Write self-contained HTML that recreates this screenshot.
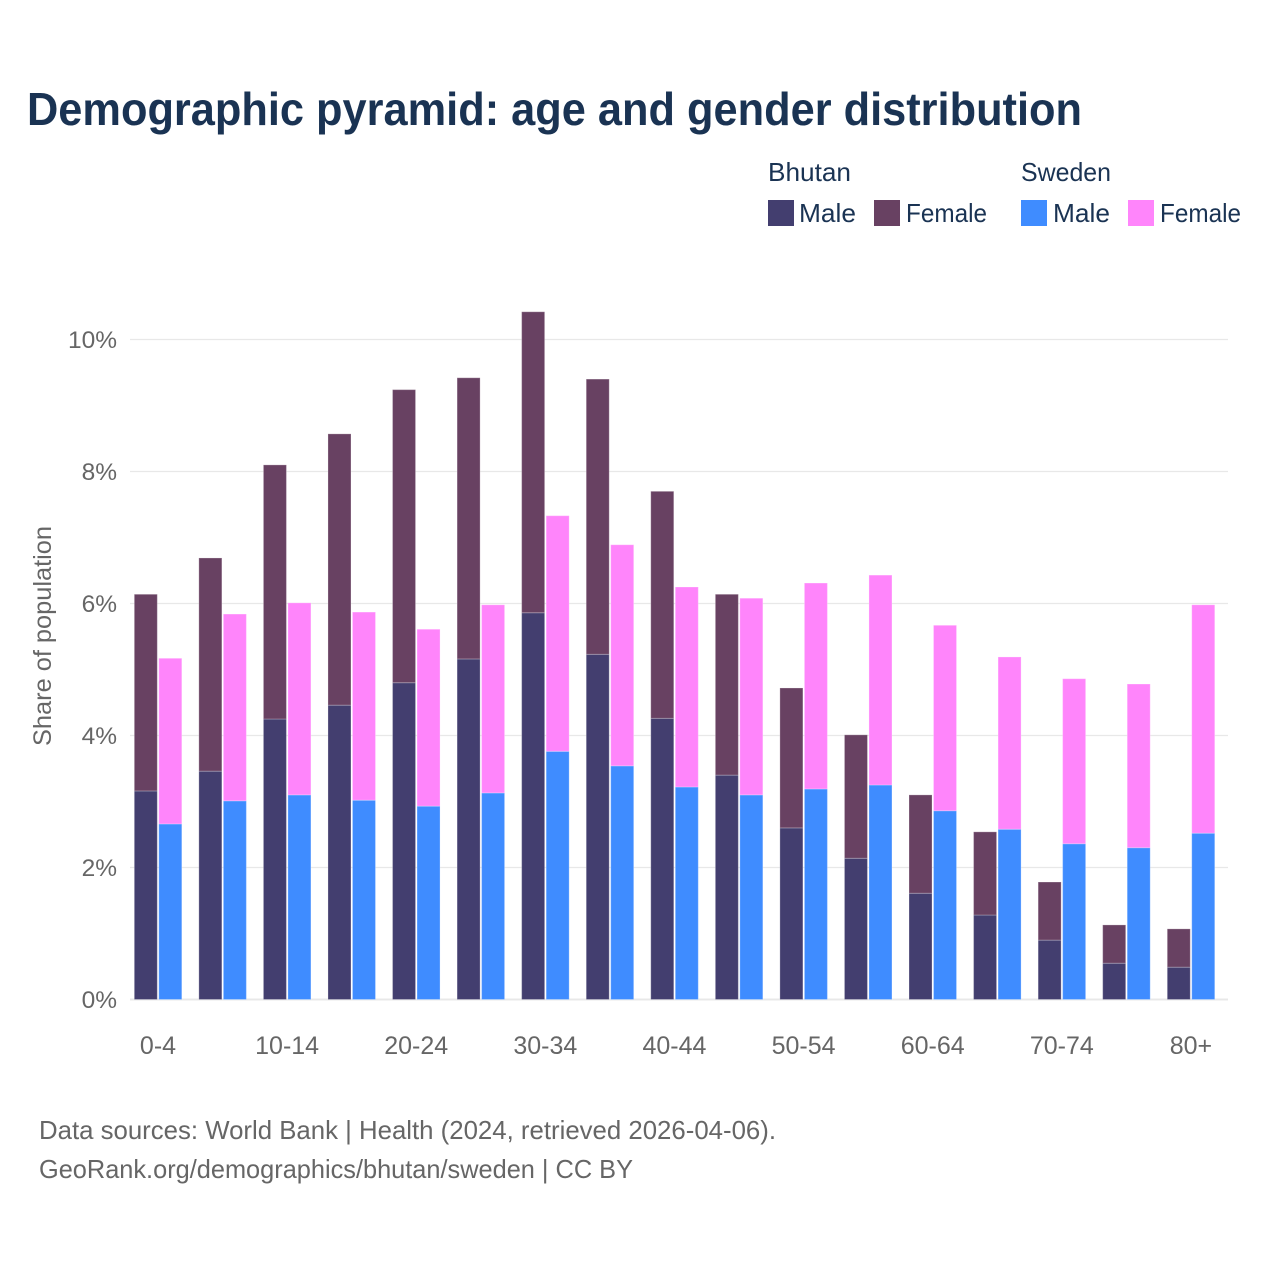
<!DOCTYPE html>
<html lang="en">
<head>
<meta charset="utf-8">
<title>Demographic pyramid</title>
<style>
html,body{margin:0;padding:0;background:#fff;}
svg{display:block;font-family:"Liberation Sans",sans-serif;}
</style>
</head>
<body>
<svg id="chart" width="1280" height="1280" viewBox="0 0 1280 1280" xmlns="http://www.w3.org/2000/svg">
  <rect x="0" y="0" width="1280" height="1280" fill="#ffffff"/>
  <text x="27" y="125" font-size="46" font-weight="700" fill="#1a3353" textLength="1055" lengthAdjust="spacingAndGlyphs">Demographic pyramid: age and gender distribution</text>

  <g font-size="26" fill="#1a3353">
    <text x="768" y="181" textLength="83" lengthAdjust="spacingAndGlyphs">Bhutan</text>
    <rect x="768" y="200" width="26" height="26" fill="#433e6f"/>
    <text x="799" y="222" textLength="57" lengthAdjust="spacingAndGlyphs">Male</text>
    <rect x="874" y="200" width="26" height="26" fill="#684162"/>
    <text x="906" y="222" textLength="81" lengthAdjust="spacingAndGlyphs">Female</text>
    <text x="1021" y="181" textLength="90" lengthAdjust="spacingAndGlyphs">Sweden</text>
    <rect x="1021" y="200" width="26" height="26" fill="#3f8cff"/>
    <text x="1053" y="222" textLength="57" lengthAdjust="spacingAndGlyphs">Male</text>
    <rect x="1128" y="200" width="26" height="26" fill="#ff85fb"/>
    <text x="1160" y="222" textLength="81" lengthAdjust="spacingAndGlyphs">Female</text>
  </g>

  <g id="grid"></g>
  <g id="yticks"></g>
  <g id="bars"></g>
  <g id="xticks"></g>

  <text transform="translate(51,746) rotate(-90)" font-size="25" fill="#666666" textLength="220" lengthAdjust="spacingAndGlyphs">Share of population</text>

  <text x="39" y="1139" font-size="26" fill="#666666" textLength="737" lengthAdjust="spacingAndGlyphs">Data sources: World Bank | Health (2024, retrieved 2026-04-06).</text>
  <text x="39" y="1178" font-size="26" fill="#666666" textLength="594" lengthAdjust="spacingAndGlyphs">GeoRank.org/demographics/bhutan/sweden | CC BY</text>
</svg>
<script>
const categories = ["0-4","5-9","10-14","15-19","20-24","25-29","30-34","35-39","40-44","45-49","50-54","55-59","60-64","65-69","70-74","75-79","80+"];
const bhutanMale = [3.16,3.46,4.25,4.46,4.80,5.16,5.86,5.23,4.26,3.40,2.60,2.14,1.61,1.28,0.90,0.55,0.49];
const bhutanFemale = [2.98,3.23,3.85,4.11,4.44,4.26,4.56,4.17,3.44,2.74,2.12,1.87,1.49,1.26,0.88,0.58,0.58];
const swedenMale = [2.66,3.01,3.10,3.02,2.93,3.13,3.76,3.54,3.22,3.10,3.19,3.25,2.86,2.58,2.36,2.30,2.52];
const swedenFemale = [2.51,2.83,2.91,2.85,2.68,2.85,3.57,3.35,3.03,2.98,3.12,3.18,2.81,2.61,2.50,2.48,3.46];
const yTickValues = [0,2,4,6,8,10];

const NS = "http://www.w3.org/2000/svg";
function yScale(v){ return 999.5 - v * 66; }
function xCenter(i){ return 158 + i * 64.56; }

const gridGroup = document.getElementById("grid");
const yGroup = document.getElementById("yticks");
yTickValues.forEach(function(t){
  const line = document.createElementNS(NS,"line");
  
  
  line.setAttribute("x1",130);
  line.setAttribute("x2",1228);
  line.setAttribute("y1",yScale(t));
  line.setAttribute("y2",yScale(t));
  line.setAttribute("stroke","#e8e8e8");
  line.setAttribute("stroke-width",t===0?2:1.3);
  gridGroup.appendChild(line);
  const label = document.createElementNS(NS,"text");
  
  
  label.setAttribute("x",117);
  label.setAttribute("y",yScale(t)+8.5);
  label.setAttribute("text-anchor","end");
  label.setAttribute("font-size",24.5);
  label.setAttribute("fill","#666666");
  label.textContent = t + "%";
  yGroup.appendChild(label);
});

const barGroup = document.getElementById("bars");
function drawBar(x, base, value, color){
  const rect = document.createElementNS(NS,"rect");
  
  
  const top = yScale(base + value);
  rect.setAttribute("x",x);
  rect.setAttribute("y",top);
  rect.setAttribute("width",23);
  rect.setAttribute("height",yScale(base) - top);
  rect.setAttribute("fill",color);
  rect.setAttribute("stroke","#ffffff");
  rect.setAttribute("stroke-opacity","0.25");
  rect.setAttribute("stroke-width",1);
  barGroup.appendChild(rect);
}
categories.forEach(function(c,i){
  const cx = xCenter(i);
  drawBar(cx - 23.7, 0, bhutanMale[i], "#433e6f");
  drawBar(cx - 23.7, bhutanMale[i], bhutanFemale[i], "#684162");
  drawBar(cx + 0.8, 0, swedenMale[i], "#3f8cff");
  drawBar(cx + 0.8, swedenMale[i], swedenFemale[i], "#ff85fb");
});

const xGroup = document.getElementById("xticks");
categories.forEach(function(c,i){
  if (i % 2 !== 0) return;
  const label = document.createElementNS(NS,"text");
  
  
  label.setAttribute("x",xCenter(i));
  label.setAttribute("y",1054);
  label.setAttribute("text-anchor","middle");
  label.setAttribute("font-size",25);
  label.setAttribute("fill","#666666");
  label.textContent = c;
  xGroup.appendChild(label);
});
</script>
</body>
</html>
